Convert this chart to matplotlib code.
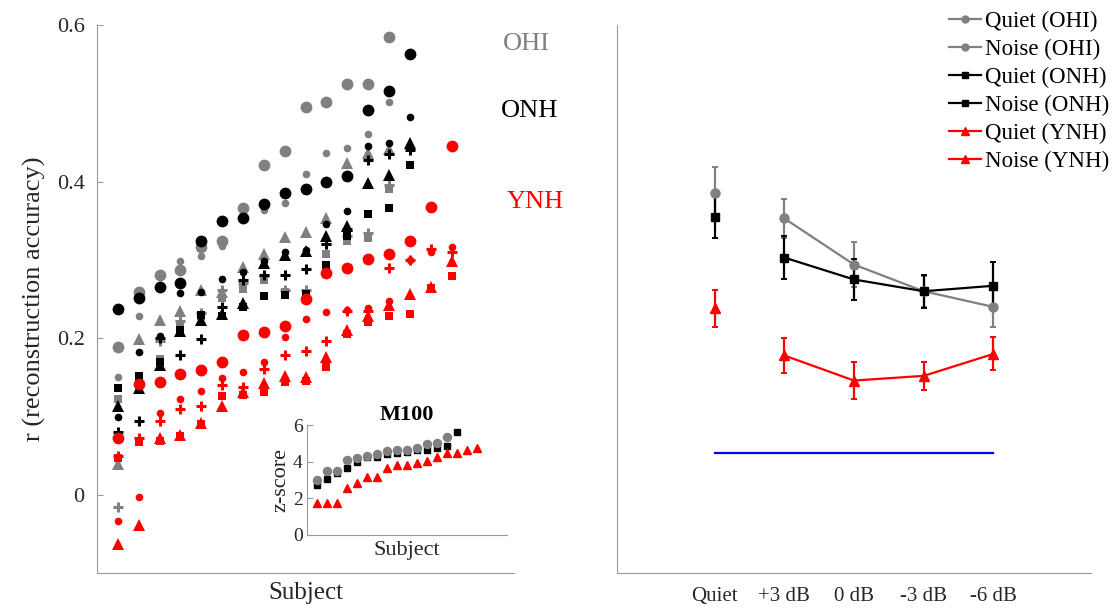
import matplotlib.pyplot as plt
from matplotlib.lines import Line2D
import numpy as np

plt.rcParams['font.family'] = ['Liberation Serif', 'DejaVu Serif']

GRAY = '#808080'
SPINE = '#9a9a9a'
TXT = '#262626'

# left panel: r per subject, each group sorted by its quiet score
ohi_quiet = [0.189, 0.259, 0.281, 0.287, 0.317, 0.324, 0.366, 0.421, 0.439, 0.495, 0.502, 0.525, 0.525, 0.585]
ohi_p3 = [0.150, 0.228, 0.280, 0.298, 0.305, 0.318, 0.358, 0.364, 0.373, 0.410, 0.436, 0.443, 0.461, 0.502]
ohi_0 = [-0.016, 0.140, 0.197, 0.222, 0.232, 0.262, 0.270, 0.280, 0.262, 0.261, 0.320, 0.330, 0.334, 0.395]
ohi_m3 = [0.040, 0.199, 0.223, 0.235, 0.261, 0.259, 0.291, 0.308, 0.329, 0.336, 0.353, 0.424, 0.437, 0.441]
ohi_m6 = [0.122, 0.150, 0.174, 0.216, 0.228, 0.252, 0.263, 0.274, 0.259, 0.255, 0.308, 0.324, 0.328, 0.390]

onh_quiet = [0.237, 0.251, 0.266, 0.270, 0.324, 0.350, 0.354, 0.371, 0.386, 0.390, 0.399, 0.407, 0.491, 0.515, 0.563]
onh_p3 = [0.099, 0.182, 0.203, 0.258, 0.259, 0.275, 0.285, 0.298, 0.310, 0.313, 0.346, 0.362, 0.446, 0.449, 0.483]
onh_0 = [0.080, 0.094, 0.200, 0.179, 0.199, 0.240, 0.274, 0.281, 0.281, 0.288, 0.320, 0.340, 0.428, 0.435, 0.440]
onh_m3 = [0.114, 0.137, 0.166, 0.209, 0.223, 0.231, 0.245, 0.296, 0.306, 0.311, 0.330, 0.343, 0.398, 0.409, 0.449]
onh_m6 = [0.136, 0.152, 0.170, 0.210, 0.230, 0.228, 0.240, 0.254, 0.255, 0.257, 0.293, 0.330, 0.358, 0.366, 0.421]

ynh_quiet = [0.073, 0.141, 0.144, 0.155, 0.159, 0.170, 0.204, 0.208, 0.216, 0.250, 0.283, 0.290, 0.301, 0.308, 0.324, 0.368, 0.446]
ynh_p3 = [-0.033, -0.002, 0.104, 0.123, 0.133, 0.149, 0.157, 0.170, 0.201, 0.224, 0.234, 0.236, 0.239, 0.247, 0.300, 0.310, 0.316]
ynh_0 = [0.050, 0.073, 0.094, 0.110, 0.113, 0.140, 0.138, 0.161, 0.178, 0.184, 0.196, 0.235, 0.235, 0.290, 0.300, 0.314, 0.310]
ynh_m3 = [-0.063, -0.039, 0.073, 0.077, 0.092, 0.113, 0.131, 0.143, 0.152, 0.151, 0.176, 0.210, 0.229, 0.242, 0.257, 0.266, 0.298]
ynh_m6 = [0.047, 0.067, 0.069, 0.075, 0.090, 0.126, 0.128, 0.131, 0.144, 0.146, 0.163, 0.205, 0.221, 0.228, 0.231, 0.264, 0.279]

# inset: M100 z-scores
m100_ohi = [3.0, 3.49, 3.49, 4.09, 4.18, 4.31, 4.45, 4.6, 4.64, 4.64, 4.76, 4.95, 5.0, 5.36]
m100_onh = [2.73, 3.04, 3.4, 3.64, 4.0, 4.24, 4.27, 4.42, 4.49, 4.55, 4.67, 4.67, 4.73, 4.87, 5.64]
m100_ynh = [1.73, 1.73, 1.73, 2.55, 2.82, 3.15, 3.15, 3.64, 3.82, 3.82, 3.95, 4.04, 4.27, 4.49, 4.49, 4.67, 4.73]

# right panel: group means and error bars
conditions = ['Quiet', '+3 dB', '0 dB', '-3 dB', '-6 dB']
ohi_mean = [0.386, 0.353, 0.294, 0.260, 0.240]
ohi_err = [0.032, 0.025, 0.029, 0.020, 0.026]
onh_mean = [0.355, 0.303, 0.275, 0.260, 0.267]
onh_err = [0.027, 0.027, 0.026, 0.021, 0.030]
ynh_mean = [0.238, 0.178, 0.146, 0.152, 0.180]
ynh_err = [0.023, 0.022, 0.024, 0.018, 0.021]
chance = 0.053

fig = plt.figure(figsize=(11.19, 6.10), dpi=100)

# ---- left scatter
ax = fig.add_axes([0.0867, 0.0602, 0.3727, 0.899])
groups = [
    (GRAY, [ohi_quiet, ohi_p3, ohi_0, ohi_m3, ohi_m6]),
    ('black', [onh_quiet, onh_p3, onh_0, onh_m3, onh_m6]),
    ('red', [ynh_quiet, ynh_p3, ynh_0, ynh_m3, ynh_m6]),
]
styles = [('o', 8.5, 0), ('o', 5.5, 0), ('+', 7.5, 2.2), ('^', 8.5, 0), ('s', 5.5, 0)]
for z, (col, series) in enumerate(groups):
    for vals, (mk, ms, mew) in zip(series, styles):
        x = np.arange(1, len(vals) + 1)
        ax.plot(x, vals, linestyle='none', marker=mk, ms=ms, color=col,
                mew=mew, zorder=3 + z)

ax.set_xlim(0, 20)
ax.set_ylim(-0.1, 0.6)
ax.set_xticks([])
ax.set_yticks([0, 0.2, 0.4, 0.6])
ax.set_yticklabels(['0', '0.2', '0.4', '0.6'])
ax.set_xlabel('Subject', fontsize=18, color=TXT, labelpad=6)
ax.set_ylabel('r (reconstruction accuracy)', fontsize=19, color=TXT, labelpad=8)
ax.text(20.6, 0.575, 'OHI', color=GRAY, fontsize=19, ha='center', va='center', clip_on=False)
ax.text(20.75, 0.49, 'ONH', color='black', fontsize=19, ha='center', va='center', clip_on=False)
ax.text(21.0, 0.374, 'YNH', color='red', fontsize=19, ha='center', va='center', clip_on=False)

# ---- inset
axi = fig.add_axes([0.2741, 0.123, 0.179, 0.180])
axi.plot(np.arange(1, len(m100_onh) + 1), m100_onh, 's', color='black', ms=4.2, zorder=3)
axi.plot(np.arange(1, len(m100_ohi) + 1), m100_ohi, 'o', color=GRAY, ms=5.8, zorder=4)
axi.plot(np.arange(1, len(m100_ynh) + 1), m100_ynh, '^', color='red', ms=6, zorder=5)
axi.set_xlim(0, 20)
axi.set_ylim(0, 6)
axi.set_xticks([])
axi.set_yticks([0, 2, 4, 6])
axi.set_xlabel('Subject', fontsize=16, color=TXT, labelpad=4)
axi.set_ylabel('z-score', fontsize=16, color=TXT, labelpad=2)
axi.set_title('M100', fontsize=16, fontweight='bold', pad=3)

# ---- right means
ax2 = fig.add_axes([0.5514, 0.0602, 0.4236, 0.899])
xq = [1]
xn = [2, 3, 4, 5]
for mean, err, col, mk, ms in [(ohi_mean, ohi_err, GRAY, 'o', 6.5),
                                (onh_mean, onh_err, 'black', 's', 5.5),
                                (ynh_mean, ynh_err, 'red', '^', 7)]:
    ax2.errorbar(xq, mean[:1], yerr=err[:1], fmt=mk, color=col, ms=ms,
                 elinewidth=1.6, capsize=2, capthick=1.4)
    ax2.errorbar(xn, mean[1:], yerr=err[1:], fmt='-' + mk, color=col, ms=ms,
                 lw=1.6, elinewidth=1.6, capsize=2, capthick=1.4)
ax2.plot([1, 5], [chance, chance], color='#0000ff', lw=1.6)
ax2.set_xlim(-0.4, 6.4)
ax2.set_ylim(-0.1, 0.6)
ax2.set_xticks(range(1, 6))
ax2.set_xticklabels(conditions)
ax2.set_yticks([])

for a in (ax, axi, ax2):
    for s in ('top', 'right'):
        a.spines[s].set_visible(False)
    for s in ('left', 'bottom'):
        a.spines[s].set_color(SPINE)
    a.tick_params(direction='in', color=SPINE, labelcolor=TXT, labelsize=16, length=4)
ax.tick_params(axis='y', pad=9)
axi.tick_params(labelsize=14, pad=3)
ax2.tick_params(axis='x', length=0, pad=10, labelsize=15)

handles = [
    Line2D([], [], color=GRAY, marker='o', ms=5, lw=1.6),
    Line2D([], [], color=GRAY, marker='o', ms=5, lw=1.6),
    Line2D([], [], color='black', marker='s', ms=4, lw=1.6),
    Line2D([], [], color='black', marker='s', ms=4, lw=1.6),
    Line2D([], [], color='red', marker='^', ms=5.5, lw=1.6),
    Line2D([], [], color='red', marker='^', ms=5.5, lw=1.6),
]
labels = ['Quiet (OHI)', 'Noise (OHI)', 'Quiet (ONH)', 'Noise (ONH)', 'Quiet (YNH)', 'Noise (YNH)']
fig.legend(handles, labels, loc='upper right', bbox_to_anchor=(1.004, 1.005), frameon=False,
           fontsize=16.5, handlelength=1.4, handletextpad=0.2, labelspacing=0.3,
           borderaxespad=0.2)

fig.savefig('out.png', dpi=100)
